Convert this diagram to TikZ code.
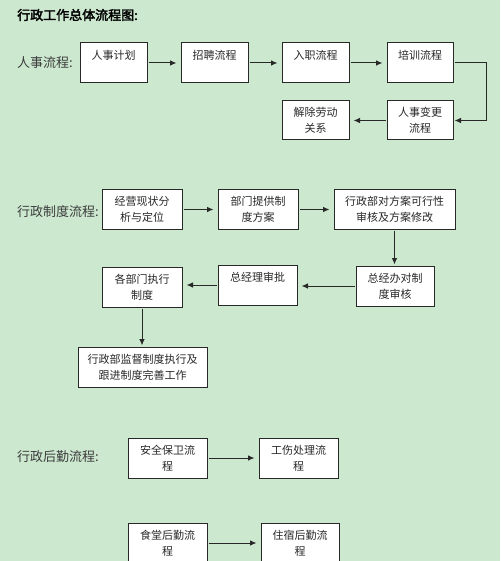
\documentclass[tikz,border=0pt]{standalone}
\usepackage{fontspec}
\usetikzlibrary{arrows.meta}

\newfontfamily\cjk[AutoFakeBold=2.5]{Noto Sans CJK SC}

\definecolor{BackColor}{RGB}{204,232,207}
\definecolor{LineColor}{RGB}{40,40,40}
\definecolor{LabelColor}{RGB}{60,60,60}

\tikzset{
	stepbox/.style={draw=LineColor, fill=white, line width=1pt, align=center,
		inner sep=0pt, font=\cjk\fontsize{11}{16}\selectfont, text=LineColor},
	flowarrow/.style={draw=LineColor, line width=1pt,
		-{Latex[length=6.5pt,width=5.5pt]}, shorten >=4pt, shorten <=1pt},
	rowlabel/.style={anchor=west, inner sep=0pt, text=LabelColor,
		font=\cjk\fontsize{13}{15}\selectfont}
}

\begin{document}
\begin{tikzpicture}[x=1pt, y=-1pt]

	% Background

	\fill [BackColor] (0,0) rectangle (500,561);
	\useasboundingbox (0,0) rectangle (500,561);
	\clip (0,0) rectangle (500,561);

	% Labels

	\node [rowlabel, text=black, font=\cjk\bfseries\fontsize{13}{15}\selectfont] (title) at (17,15) {行政工作总体流程图:};
	\node [rowlabel] (hrlabel) at (17,63) {人事流程:};
	\node [rowlabel] (rulelabel) at (17,212) {行政制度流程:};
	\node [rowlabel] (servlabel) at (17,457) {行政后勤流程:};

	% Personnel boxes

	\node [stepbox, minimum width=67pt, minimum height=40pt] (plan) at (113.5,63) {人事计划\\~};
	\node [stepbox, minimum width=67pt, minimum height=40pt] (recruit) at (214.5,63) {招聘流程\\~};
	\node [stepbox, minimum width=67pt, minimum height=40pt] (entry) at (315.5,63) {入职流程\\~};
	\node [stepbox, minimum width=66pt, minimum height=40pt] (train) at (420,63) {培训流程\\~};
	\node [stepbox, minimum width=66pt, minimum height=39pt] (change) at (420,120.5) {人事变更\\流程};
	\node [stepbox, minimum width=67pt, minimum height=39pt] (dismiss) at (315.5,120.5) {解除劳动\\关系};

	% Rule boxes

	\node [stepbox, minimum width=80pt, minimum height=39pt] (analyse) at (142,209.5) {经营现状分\\析与定位};
	\node [stepbox, minimum width=80pt, minimum height=39pt] (deptplan) at (258,209.5) {部门提供制\\度方案};
	\node [stepbox, minimum width=121pt, minimum height=39pt] (review) at (394.5,209.5) {行政部对方案可行性\\审核及方案修改};
	\node [stepbox, minimum width=78pt, minimum height=40pt] (gmoffice) at (395,286) {总经办对制\\度审核};
	\node [stepbox, minimum width=79pt, minimum height=40pt] (approve) at (257.5,285) {总经理审批\\~};
	\node [stepbox, minimum width=80pt, minimum height=40pt] (execute) at (142,287) {各部门执行\\制度};
	\node [stepbox, minimum width=129pt, minimum height=40pt] (supervise) at (142.5,367) {行政部监督制度执行及\\跟进制度完善工作};

	% Service boxes

	\node [stepbox, minimum width=79pt, minimum height=40pt] (security) at (167.5,458) {安全保卫流\\程};
	\node [stepbox, minimum width=79pt, minimum height=40pt] (injury) at (298.5,458) {工伤处理流\\程};
	\node [stepbox, minimum width=79pt, minimum height=40pt] (canteen) at (167.5,543) {食堂后勤流\\程};
	\node [stepbox, minimum width=78pt, minimum height=40pt] (dorm) at (300,543) {住宿后勤流\\程};

	% Arrows

	\draw [flowarrow] (plan) -- (recruit);
	\draw [flowarrow] (recruit) -- (entry);
	\draw [flowarrow] (entry) -- (train);
	\draw [flowarrow, shorten >=1pt] (train.east) -- ++(33,0) |- (change.east);
	\draw [flowarrow] (change) -- (dismiss);

	\draw [flowarrow] (analyse) -- (deptplan);
	\draw [flowarrow] (deptplan) -- (review);
	\draw [flowarrow, shorten >=1pt] (review) -- (review.south |- gmoffice.north);
	\draw [flowarrow] (gmoffice) -- (gmoffice.west -| approve.east);
	\draw [flowarrow] (approve) -- (approve.west -| execute.east);
	\draw [flowarrow, shorten >=1pt] (execute) -- (execute.south |- supervise.north);

	\draw [flowarrow] (security) -- (injury);
	\draw [flowarrow] (canteen) -- (dorm);

\end{tikzpicture}
\end{document}
